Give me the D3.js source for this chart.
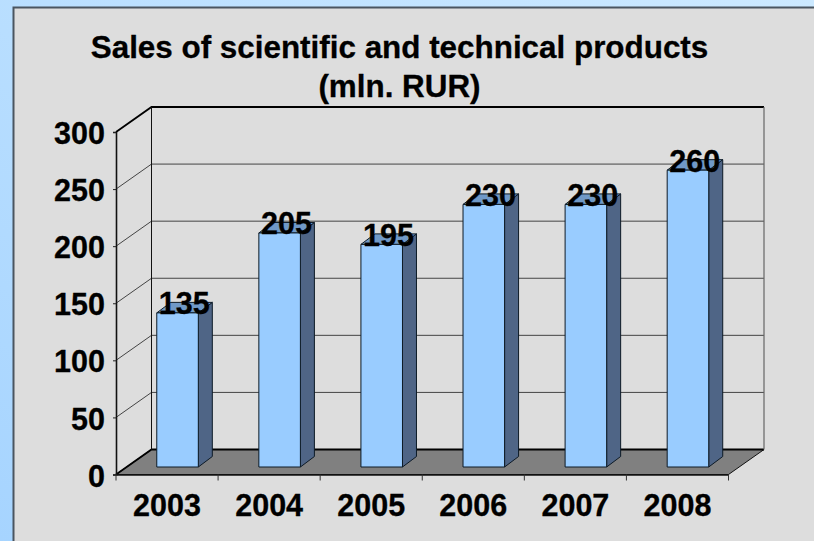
<!DOCTYPE html>
<html>
<head>
<meta charset="utf-8">
<script src="https://cdn.jsdelivr.net/npm/d3@7"></script>
<style>
  html, body { margin: 0; padding: 0; overflow: hidden; }
  text { font-family: "Liberation Sans", Arial, sans-serif; font-weight: bold; fill: #000; stroke: #000; stroke-width: 0.3px; }
</style>
</head>
<body>
<div id="chart"></div>
<script>
const years = ["2003", "2004", "2005", "2006", "2007", "2008"];
const sales = [135, 205, 195, 230, 230, 260];
const yTicks = [0, 50, 100, 150, 200, 250, 300];
const titleLines = ["Sales of scientific and technical products", "(mln. RUR)"];

const width = 814;
const height = 541;

// oblique offset of the back wall from the front axes
const depth = { x: 35.5, y: -25 };
// bars stand a bit inside the floor, and are shallower than it
const barInset = { x: 10.5, y: -7.5 };
const barDepth = { x: 14, y: -10.5 };

const svg = d3
  .select("#chart")
  .append("svg")
  .attr("width", width)
  .attr("height", height)
  .style("display", "block");

const defs = svg.append("defs");
const bg = defs
  .append("linearGradient")
  .attr("id", "page-bg")
  .attr("x1", 1)
  .attr("y1", 0)
  .attr("x2", 0)
  .attr("y2", 1);
bg.append("stop").attr("offset", "0%").attr("stop-color", "#cce9ff");
bg.append("stop").attr("offset", "100%").attr("stop-color", "#a6d4ff");

svg.append("rect").attr("width", width).attr("height", height).attr("fill", "url(#page-bg)");

// Gray panel, runs off the right and bottom edges
svg
  .append("rect")
  .attr("x", 13.5)
  .attr("y", 7.5)
  .attr("width", width)
  .attr("height", height)
  .attr("fill", "#dddddd")
  .attr("stroke", "#4a5560")
  .attr("stroke-width", 2);

const x = d3
  .scaleBand()
  .domain(years)
  .range([116, 728.5])
  .paddingInner(0.593)
  .paddingOuter(0.2965);

const y = d3.scaleLinear().domain([0, 300]).range([474.5, 132]);

const x0 = x.range()[0];
const x1 = x.range()[1];

// Floor
svg
  .append("polygon")
  .attr(
    "points",
    [
      [x0, y(0)],
      [x0 + depth.x, y(0) + depth.y],
      [x1 + depth.x, y(0) + depth.y],
      [x1, y(0)],
    ].join(" ")
  )
  .attr("fill", "#808080")
  .attr("stroke", "#111")
  .attr("stroke-width", 1);

// Gridlines on the side and back walls
svg
  .append("g")
  .attr("class", "grid")
  .selectAll("path")
  .data(yTicks)
  .enter()
  .append("path")
  .attr("fill", "none")
  .attr("stroke", (d) => (d === 0 || d === 300 ? "#000" : "#444"))
  .attr("stroke-width", (d) => (d === 300 || d === 0 ? 1.8 : 1))
  .attr(
    "d",
    (d) =>
      `M${x0},${y(d)}L${x0 + depth.x},${y(d) + depth.y}L${x1 + depth.x},${y(d) + depth.y}`
  );

// Back wall verticals
svg
  .append("path")
  .attr("fill", "none")
  .attr("stroke", "#111")
  .attr("d", `M${x0 + depth.x},${y(0) + depth.y}V${y(300) + depth.y}`);
svg
  .append("path")
  .attr("fill", "none")
  .attr("stroke", "#666")
  .attr("stroke-width", 1.2)
  .attr("d", `M${x1 + depth.x},${y(0) + depth.y}V${y(300) + depth.y}`);

// Bars: side, top, front
const bars = svg
  .append("g")
  .attr("class", "bars")
  .selectAll("g")
  .data(years.map((year, i) => ({ year: year, value: sales[i] })))
  .enter()
  .append("g")
  .attr("stroke", "#0d1a26")
  .attr("stroke-width", 1)
  .attr("stroke-linejoin", "round");

const barLeft = (d) => x(d.year) + barInset.x;
const barRight = (d) => barLeft(d) + x.bandwidth();
const barTop = (d) => y(d.value) + barInset.y;
const barBase = y(0) + barInset.y;

bars
  .append("polygon")
  .attr("fill", "#4f6586")
  .attr("points", (d) =>
    [
      [barRight(d), barTop(d)],
      [barRight(d) + barDepth.x, barTop(d) + barDepth.y],
      [barRight(d) + barDepth.x, barBase + barDepth.y],
      [barRight(d), barBase],
    ].join(" ")
  );

bars
  .append("polygon")
  .attr("fill", "#7099c7")
  .attr("points", (d) =>
    [
      [barLeft(d), barTop(d)],
      [barLeft(d) + barDepth.x, barTop(d) + barDepth.y],
      [barRight(d) + barDepth.x, barTop(d) + barDepth.y],
      [barRight(d), barTop(d)],
    ].join(" ")
  );

bars
  .append("rect")
  .attr("fill", "#99ccff")
  .attr("x", barLeft)
  .attr("y", barTop)
  .attr("width", x.bandwidth())
  .attr("height", (d) => barBase - barTop(d));

// Value labels sit over the bar tops
svg
  .append("g")
  .selectAll("text")
  .data(sales)
  .enter()
  .append("text")
  .attr("x", (d, i) => barRight({ year: years[i] }) - 14)
  .attr("y", (d) => barTop({ value: d }) + 1.5)
  .attr("text-anchor", "middle")
  .style("font-size", "30.5px")
  .text((d) => d);

// Front axes
const yAxis = svg
  .append("g")
  .attr("transform", `translate(${x0},0)`)
  .call(d3.axisLeft(y).tickValues(yTicks).tickSize(3).tickPadding(8));
const xAxis = svg
  .append("g")
  .attr("transform", `translate(0,${y(0)})`)
  .call(d3.axisBottom(x).tickValues(years).tickSize(0).tickPadding(20));

// ticks between categories, the band axis only gives centers
svg
  .append("g")
  .selectAll("line")
  .data(d3.range(years.length + 1))
  .enter()
  .append("line")
  .attr("x1", (i) => x0 + (i * (x1 - x0)) / years.length)
  .attr("x2", (i) => x0 + (i * (x1 - x0)) / years.length)
  .attr("y1", y(0))
  .attr("y2", y(0) + 6)
  .attr("stroke", "#333");

[yAxis, xAxis].forEach((axis) => {
  axis.attr("font-family", null).attr("font-size", null);
  axis.selectAll(".domain").attr("stroke", "#111").attr("stroke-width", 1.6);
  axis.selectAll("text").style("font-size", "30.5px").attr("fill", "#000");
  axis.selectAll(".tick line").attr("stroke", "#222");
});
yAxis.selectAll("text").attr("dy", "0.38em");

// Title
svg
  .append("g")
  .selectAll("text")
  .data(titleLines)
  .enter()
  .append("text")
  .attr("x", 399.5)
  .attr("y", (d, i) => 57.5 + i * 39)
  .attr("text-anchor", "middle")
  .style("font-size", "31.4px")
  .text((d) => d);
</script>
</body>
</html>
